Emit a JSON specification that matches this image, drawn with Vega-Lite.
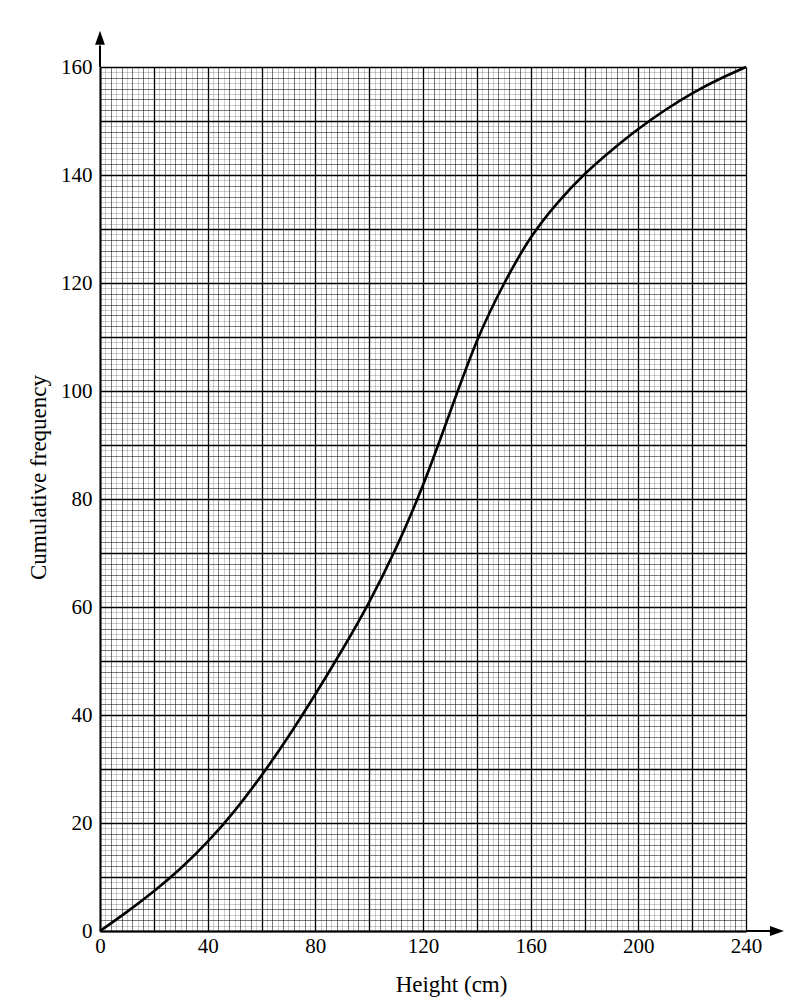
{
  "$schema": "https://vega.github.io/schema/vega-lite/v6.json",
  "description": "Cumulative frequency curve of heights on graph paper",
  "width": 646,
  "height": 864,
  "autosize": "none",
  "padding": {"left": 100, "top": 67, "right": 47, "bottom": 67},
  "background": "white",
  "config": {
    "view": {"stroke": null},
    "axis": {
      "labelFont": "Liberation Serif",
      "labelFontSize": 21,
      "labelColor": "black",
      "titleFont": "Liberation Serif",
      "titleFontSize": 23,
      "titleFontWeight": "normal",
      "titleColor": "black",
      "ticks": false,
      "domainColor": "black",
      "domainWidth": 2,
      "labelOverlap": false,
      "labelFlush": false,
      "gridColor": "black"
    }
  },
  "datasets": {
    "curve": [
      {"height": 0, "cf": 0},
      {"height": 10, "cf": 3.5},
      {"height": 20, "cf": 7.3},
      {"height": 30, "cf": 11.5},
      {"height": 40, "cf": 16.4},
      {"height": 50, "cf": 22.1},
      {"height": 60, "cf": 28.7},
      {"height": 70, "cf": 35.9},
      {"height": 80, "cf": 43.8},
      {"height": 90, "cf": 52},
      {"height": 100, "cf": 60.7},
      {"height": 110, "cf": 70.7},
      {"height": 120, "cf": 82.2},
      {"height": 130, "cf": 96},
      {"height": 140, "cf": 109.8},
      {"height": 150, "cf": 120},
      {"height": 160, "cf": 128.8},
      {"height": 170, "cf": 135},
      {"height": 180, "cf": 140.3},
      {"height": 190, "cf": 144.6},
      {"height": 200, "cf": 148.6},
      {"height": 210, "cf": 152.1},
      {"height": 220, "cf": 155.2},
      {"height": 230, "cf": 157.8},
      {"height": 240, "cf": 160}
    ],
    "xarrow": [{"height": 240, "height2": 250, "cf": 0, "tip": 251.5}],
    "yarrow": [{"height": 0, "cf": 160, "cf2": 164, "tip": 165.4}]
  },
  "layer": [
    {
      "data": {"name": "curve"},
      "mark": {"type": "line", "interpolate": "basis", "color": "black", "strokeWidth": 2.6},
      "encoding": {
        "x": {
          "field": "height",
          "type": "quantitative",
          "title": "Height (cm)",
          "scale": {"domain": [0, 240], "nice": false, "zero": false},
          "axis": {
            "tickCount": 121,
            "labelExpr": "datum.value % 40 === 0 ? datum.label : ''",
            "labelPadding": 4,
            "gridOpacity": {
              "condition": [
                {"test": "datum.value % 20 === 0", "value": 1},
                {"test": "datum.value % 4 === 0", "value": 0.58}
              ],
              "value": 0.22
            },
            "gridWidth": {"condition": {"test": "datum.value % 20 === 0", "value": 1.3}, "value": 0.9},
            "titleX": 351,
            "titleY": 60,
            "titleBaseline": "alphabetic",
            "titleAlign": "center"
          }
        },
        "y": {
          "field": "cf",
          "type": "quantitative",
          "title": "Cumulative frequency",
          "scale": {"domain": [0, 160], "nice": false, "zero": false},
          "axis": {
            "tickCount": 161,
            "labelExpr": "datum.value % 20 === 0 ? datum.label : ''",
            "labelPadding": 8,
            "gridOpacity": {
              "condition": [
                {"test": "datum.value % 10 === 0", "value": 1},
                {"test": "datum.value % 2 === 0", "value": 0.58}
              ],
              "value": 0.22
            },
            "gridWidth": {"condition": {"test": "datum.value % 10 === 0", "value": 1.3}, "value": 0.9},
            "titleAngle": -90,
            "titleX": -55,
            "titleY": 410,
            "titleBaseline": "alphabetic",
            "titleAlign": "center"
          }
        }
      }
    },
    {
      "data": {"name": "xarrow"},
      "mark": {"type": "rule", "color": "black", "strokeWidth": 2},
      "encoding": {
        "x": {"field": "height", "type": "quantitative"},
        "x2": {"field": "height2"},
        "y": {"field": "cf", "type": "quantitative"}
      }
    },
    {
      "data": {"name": "xarrow"},
      "mark": {"type": "point", "shape": "M-1,-0.7L1,0L-1,0.7Z", "filled": true, "color": "black", "size": 196, "opacity": 1},
      "encoding": {
        "x": {"field": "tip", "type": "quantitative"},
        "y": {"field": "cf", "type": "quantitative"}
      }
    },
    {
      "data": {"name": "yarrow"},
      "mark": {"type": "rule", "color": "black", "strokeWidth": 2},
      "encoding": {
        "x": {"field": "height", "type": "quantitative"},
        "y": {"field": "cf", "type": "quantitative"},
        "y2": {"field": "cf2"}
      }
    },
    {
      "data": {"name": "yarrow"},
      "mark": {"type": "point", "shape": "M-0.7,1L0,-1L0.7,1Z", "filled": true, "color": "black", "size": 196, "opacity": 1},
      "encoding": {
        "x": {"field": "height", "type": "quantitative"},
        "y": {"field": "tip", "type": "quantitative"}
      }
    }
  ]
}
